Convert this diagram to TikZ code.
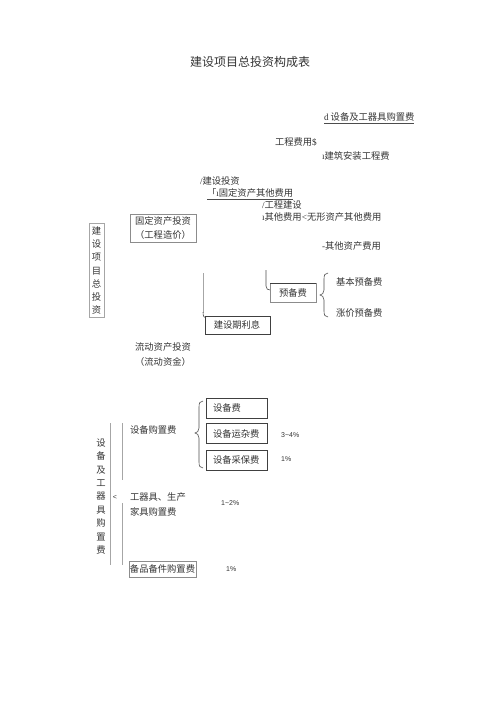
\documentclass[tikz,border=0pt]{standalone}
\usepackage{fontspec}
\setmainfont{Noto Sans CJK SC}
\newfontfamily\pctfont{Liberation Sans}
\newfontfamily\latn{Liberation Serif}
\newcommand{\dli}{{\latn ı}}
\begin{document}
\begin{tikzpicture}[x=1pt,y=-1pt,
  txt/.style={inner sep=0pt,outer sep=0pt,text=black!80,font=\fontsize{9.3}{11}\selectfont},
  lt/.style={txt,anchor=west},
  pct/.style={inner sep=0pt,anchor=west,text=black!80,font=\pctfont\fontsize{7}{8}\selectfont},
  boxd/.style={draw=black!75,line width=0.8pt},
  boxl/.style={draw=black!45,line width=0.6pt},
  thinl/.style={draw=black!35,line width=0.6pt},
  brc/.style={draw=black!70,line width=0.6pt}]
\useasboundingbox (0,0) rectangle (500,708);
% title
\node[txt,font=\fontsize{12}{14}\selectfont] (title) at (250,62) {建设项目总投资构成表};
% upper texts
\node[lt] (n1) at (324,117) {{\latn d} 设备及工器具购置费};
\draw[black!70,line width=0.5pt] (n1.south west)++(0,2) coordinate (u1a) -- (n1.south east|-u1a);
\node[lt] (n2) at (275,142) {工程费用{\latn\$}};
\node[lt] (n3) at (322,156) {\dli 建筑安装工程费};
\node[lt] (n4) at (200,181) {{\latn /}建设投资};
\node[lt] (n5) at (207,193) {「\dli 固定资产其他费用};
\draw[black!70,line width=0.5pt] (n5.south west)++(0,2) coordinate (u5a) -- (n5.south east|-u5a);
\node[lt] (n6) at (262,205) {{\latn /}工程建设};
\node[lt] (n7) at (262,217) {\dli 其他费用{\latn <}无形资产其他费用};
\node[lt] (n8) at (322,246) {{\latn -}其他资产费用};
% fixed asset box
\draw[boxl] (130,214) rectangle (196,242);
\node[txt,align=center,font=\fontsize{9.3}{14}\selectfont] (fa) at (163,228) {固定资产投资\\（工程造价）};
% vertical total box
\draw[thinl] (89,223) rectangle (104,317);
\node[txt,align=center,font=\fontsize{9.3}{13.2}\selectfont] (tot) at (96.5,270.5) {建\\设\\项\\目\\总\\投\\资};
% reserve
\draw[brc] (266,270) -- (266,286) .. controls (266,289) and (268,290) .. (270,290);
\draw[boxl] (270,283) rectangle (316,302);
\draw[black!75,line width=0.9pt] (270,283) -- (316,283);
\node[txt] (yb) at (293,293) {预备费};
\draw[brc] (328,273) .. controls (325,273) and (324,275) .. (324,279) -- (324,290)
  .. controls (324,293) and (322,295) .. (320,295)
  .. controls (322,295) and (324,297) .. (324,300) -- (324,311)
  .. controls (324,315) and (325,317) .. (328,317);
\node[lt] (jb) at (336,282) {基本预备费};
\node[lt] (zj) at (336,313) {涨价预备费};
% interest
\draw[thinl] (203,273) -- (203,313);
\draw[brc] (203,312) .. controls (203,316) and (204,318) .. (206,318);
\draw[boxd] (205,316) rectangle (270,334);
\node[txt] (lx) at (237,325) {建设期利息};
% current assets
\node[txt,align=center,font=\fontsize{9.3}{15}\selectfont] (ld) at (163,355) {流动资产投资\\（流动资金）};
% equipment
\draw[boxd] (206,398) rectangle (267,418);
\node[lt] (sb1) at (213,408) {设备费};
\draw[boxd] (206,423) rectangle (267,443);
\node[lt] (sb2) at (213,434) {设备运杂费};
\draw[boxd] (206,450) rectangle (267,470);
\node[lt] (sb3) at (213,460) {设备采保费};
\draw[brc] (203,401) .. controls (200,401) and (199,403) .. (199,407) -- (199,428)
  .. controls (199,431) and (197,433) .. (195,433)
  .. controls (197,433) and (199,435) .. (199,438) -- (199,462)
  .. controls (199,466) and (200,468) .. (203,468);
\node[lt] (gz) at (130,430) {设备购置费};
\node[pct] (p1) at (281,435) {3\textasciitilde4\%};
\node[pct] (p2) at (281,459) {1\%};
\draw[thinl,line width=0.9pt] (110,423) -- (110,565);
\draw[thinl,line width=0.9pt] (122,423) -- (122,480);
\draw[thinl,line width=0.9pt] (122,503) -- (122,565);
\node[txt,font=\pctfont\fontsize{7}{8}\selectfont] (lt1) at (115,497) {<};
\node[txt,align=center,font=\fontsize{9.3}{13.4}\selectfont] (vt) at (101,496.5) {设\\备\\及\\工\\器\\具\\购\\置\\费};
\node[lt] (gq1) at (130,497) {工器具、生产};
\node[lt] (gq2) at (130,512) {家具购置费};
\node[pct] (p3) at (221,503) {1\textasciitilde2\%};
\draw[boxl] (129,561) rectangle (196,577);
\node[txt] (bp) at (162.5,569) {备品备件购置费};
\node[pct] (p4) at (226,569) {1\%};
\end{tikzpicture}
\end{document}
